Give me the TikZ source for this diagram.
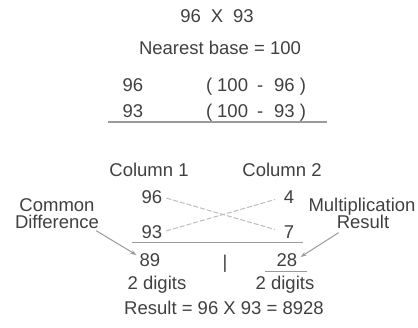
\documentclass[tikz,border=0pt]{standalone}
\usepackage{fontspec}
\setmainfont{Liberation Sans}
\usetikzlibrary{arrows.meta}
\definecolor{txt}{HTML}{404040}
\definecolor{ln}{HTML}{9A9A9A}
\definecolor{xln}{HTML}{BDBDBD}
\newcommand{\gp}[1]{\hspace*{#1pt}}
\begin{document}
\begin{tikzpicture}[x=1pt,y=-1pt,
  lbl/.style={inner sep=0pt,text=txt,font=\fontsize{18.5}{21}\selectfont,text height=13pt,text depth=0pt,anchor=center},
  rule/.style={draw=ln,line width=1pt},
  cross/.style={draw=xln,line width=1pt,dashed,dash pattern=on 5pt off 2pt,shorten <=4pt,shorten >=9pt},
  pointer/.style={draw=ln,line width=1pt,-{Stealth[length=6pt,width=4pt]}}]
\useasboundingbox (0,0) rectangle (418,327);
\node[lbl] (title) at (217,16) {96\gp{10}X\gp{10}93};
\node[lbl] (base) at (220,48) {Nearest base = 100};
\node[lbl] (a1) at (133,85) {96};
\node[lbl] (a2) at (256,85) {(\gp{5}100\gp{9}-\gp{11}96\gp{5})};
\node[lbl] (b1) at (133,111) {93};
\node[lbl] (b2) at (256,111) {(\gp{5}100\gp{9}-\gp{11}93\gp{5})};
\coordinate (r1) at (108,122);
\coordinate (r2) at (327,122);
\draw[draw=ln,line width=2.4pt] (r1) -- (r2);
\node[lbl] (c1) at (149,170) {Column 1};
\node[lbl] (c2) at (282,170) {Column 2};
\node[lbl] (n96) at (152,197) {96};
\node[lbl] (n4) at (289,197) {4};
\node[lbl] (n93) at (152,232) {93};
\node[lbl] (n7) at (289,232) {7};
\node[lbl] (cd1) at (57,205) {Common};
\node[lbl] (cd2) at (57,222) {Difference};
\node[lbl] (mr1) at (362,205) {Multiplication};
\node[lbl] (mr2) at (363,222) {Result};
\draw[cross] (n96.east) -- (n7.west);
\draw[cross] (n93.east) -- (n4.west);
\coordinate (h1) at (132,242);
\coordinate (h2) at (303,242);
\draw[rule] (h1) -- (h2);
\node[lbl] (n89) at (150,260) {89};
\node[lbl] (bar) at (225,262) {|};
\node[lbl] (n28) at (287,260) {28};
\coordinate (u1) at (265,271);
\coordinate (u2) at (307,271);
\draw[draw=ln,line width=0.8pt] (u1) -- (u2);
\node[lbl] (d1) at (157,283) {2 digits};
\node[lbl] (d2) at (285,283) {2 digits};
\node[lbl] (res) at (224,308) {Result = 96 X 93 = 8928};
\draw[pointer] ([shift={(-3,2)}]cd2.south east) -- ([shift={(-3,-5)}]n89.west);
\draw[pointer] ([shift={(2,4)}]mr2.south west) -- ([shift={(3,-3)}]n28.east);
\end{tikzpicture}
\end{document}
